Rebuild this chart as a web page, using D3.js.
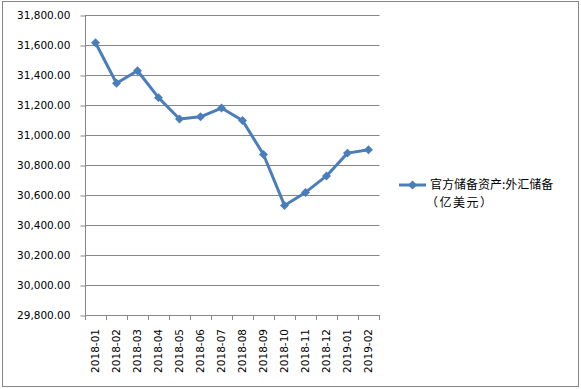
<!DOCTYPE html>
<html><head><meta charset="utf-8">
<script src="https://cdn.jsdelivr.net/npm/d3@7/dist/d3.min.js"></script>
<style>body{margin:0;background:#fff}svg{display:block}</style>
</head><body>
<script>
const categories = ["2018-01","2018-02","2018-03","2018-04","2018-05","2018-06","2018-07","2018-08","2018-09","2018-10","2018-11","2018-12","2019-01","2019-02"];
const values = [31614.57,31344.82,31428.09,31249.16,31106.21,31121.29,31179.49,31097.16,30870.30,30530.61,30617.18,30727.12,30879.24,30901.81];
const yTicks = [29800,30000,30200,30400,30600,30800,31000,31200,31400,31600,31800];
const seriesName = ["官方储备资产:外汇储备", "（亿美元）"];

(function () {
const W = 581, H = 389;
const svg = d3.select("body").append("svg").attr("width", W).attr("height", H);
svg.append("rect").attr("x", 2.5).attr("y", 1.5).attr("width", 576).attr("height", 385)
  .attr("fill", "#fff").attr("stroke", "#868686").attr("stroke-width", 1);

const pl = 85, pr = 379, pt = 15, pb = 315;
const x = d3.scaleBand().domain(categories).range([pl, pr]);
const y = d3.scaleLinear().domain([29800, 31800]).range([pb, pt]);
const font = "DejaVu Sans, Verdana, sans-serif";
const grey = "#868686";

// gridlines
svg.append("g").selectAll("line").data(yTicks.slice(1)).join("line")
  .attr("x1", pl).attr("x2", pr + 0.5)
  .attr("y1", d => Math.round(y(d)) + 0.5).attr("y2", d => Math.round(y(d)) + 0.5)
  .attr("stroke", grey).attr("stroke-width", 1);

// y axis
const yAxis = d3.axisLeft(y).tickValues(yTicks).tickSize(5).tickPadding(10)
  .tickFormat(d3.format(",.2f"));
const gy = svg.append("g").attr("transform", `translate(${pl + 0.5},0.5)`).call(yAxis);
gy.select(".domain").attr("stroke", grey).attr("d", `M0,${pt}V${pb}`);
gy.selectAll(".tick line").attr("stroke", grey);
gy.selectAll("text").attr("font-family", font).attr("font-size", "10.5px").attr("fill", "#000");

// x axis
const xAxis = d3.axisBottom(x).tickSize(0).tickSizeOuter(0);
const gx = svg.append("g").attr("transform", `translate(0,${pb + 0.5})`).call(xAxis);
gx.select(".domain").attr("stroke", grey).attr("d", `M${pl},0H${pr + 0.5}`);
gx.selectAll(".tick text")
  .attr("font-family", font).attr("font-size", "10.5px").attr("fill", "#000")
  .attr("transform", "rotate(-90)").attr("text-anchor", "end")
  .attr("x", -13.5).attr("y", 0).attr("dy", "0.35em");
// category boundary ticks
const bounds = categories.map(c => x(c)).concat([pr]);
svg.append("g").selectAll("line").data(bounds).join("line")
  .attr("x1", d => Math.round(d) + 0.5).attr("x2", d => Math.round(d) + 0.5)
  .attr("y1", pb).attr("y2", pb + 5).attr("stroke", grey);

// line
const cx = d => x(d) + x.bandwidth() / 2;
const line = d3.line().x((d, i) => cx(categories[i])).y(d => y(d));
const blue = "#4A7EBB";
svg.append("path").datum(values).attr("d", line)
  .attr("fill", "none").attr("stroke", blue).attr("stroke-width", 3).attr("stroke-linejoin", "round");
const diamond = d3.symbol().type(d3.symbolSquare).size(40);
svg.append("g").selectAll("path").data(values).join("path")
  .attr("d", diamond)
  .attr("transform", (d, i) => `translate(${cx(categories[i])},${y(d)}) rotate(45)`)
  .attr("fill", blue);

// legend
const lg = svg.append("g");
lg.append("line").attr("x1", 399).attr("x2", 426).attr("y1", 185).attr("y2", 185)
  .attr("stroke", blue).attr("stroke-width", 3);
lg.append("path").attr("d", diamond).attr("transform", "translate(412.5,185) rotate(45)").attr("fill", blue);
lg.selectAll("text").data(seriesName).join("text")
  .attr("x", (d, i) => i === 0 ? 430 : 426).attr("y", (d, i) => 185 + i * 18)
  .attr("dy", "0.35em")
  .attr("letter-spacing", (d, i) => i === 0 ? 0 : 1.5)
  .attr("font-family", "Noto Sans CJK SC, sans-serif").attr("font-size", "12px").attr("fill", "#000")
  .text(d => d);
})();
</script>
</body></html>
